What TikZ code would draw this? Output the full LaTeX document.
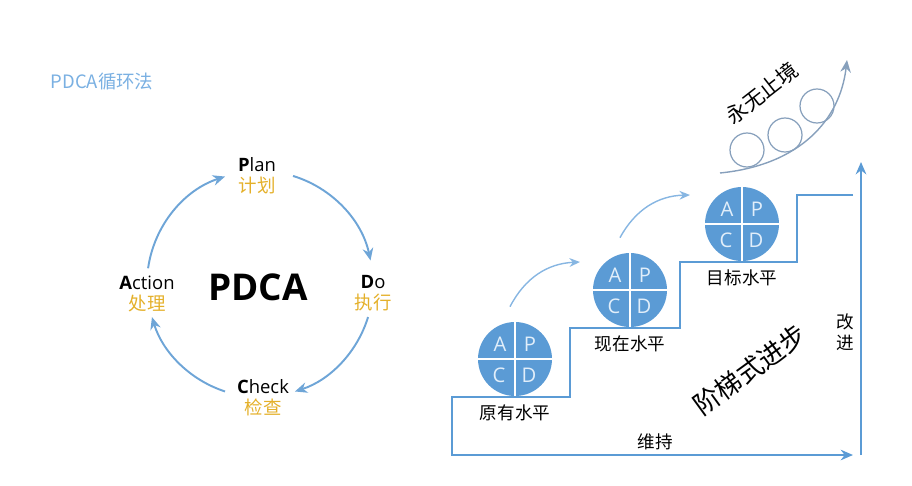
\documentclass[tikz,border=0pt]{standalone}
\usepackage{fontspec}
\setmainfont{Open Sans}
\newfontfamily\cjk{Noto Sans CJK SC}
\usetikzlibrary{arrows.meta,calc}
\definecolor{stairblue}{RGB}{91,155,213}
\definecolor{arcblue}{RGB}{110,165,215}
\definecolor{hopblue}{RGB}{135,182,226}
\definecolor{gold}{RGB}{228,176,42}
\definecolor{titleblue}{RGB}{122,176,226}
\definecolor{pathgray}{RGB}{135,160,188}
\definecolor{letterwhite}{RGB}{225,238,250}
\begin{document}
	\begin{tikzpicture}[x=0.02cm, y=0.02cm,
		stage/.style={font=\fontsize{10.5}{13}\selectfont, align=center, inner sep=1pt},
		cn/.style={font=\cjk\fontsize{10}{12}\selectfont, inner sep=1pt},
		cyclearrow/.style={arcblue, line width=1.1pt, -{Stealth[length=7pt, width=6pt]}},
		apdc/.style={circle, fill=stairblue, minimum size=1.48cm, inner sep=0pt},
		quarter/.style={font=\fontsize{11.5}{13}\selectfont, text=letterwhite, inner sep=0pt},
		hop/.style={hopblue, line width=0.8pt, -{Stealth[length=6pt, width=5pt]}}]
		\useasboundingbox (0,0) rectangle (912,485);
		% ---- left: the PDCA cycle ----
		\node[cn, text=titleblue, font=\cjk\fontsize{10.5}{12}\selectfont] (title) at (102,403) {PDCA循环法};
		\coordinate (cyc) at (260,201);
		\node[font=\bfseries\fontsize{21}{24}\selectfont] (pdca) at (258,198) {PDCA};
		\node[stage] (plan) at (257,309) {\textbf{P}lan\\[-1pt]{\cjk\color{gold}计划}};
		\node[stage] (do) at (373,192) {\textbf{D}o\\[-1pt]{\cjk\color{gold}执行}};
		\node[stage] (check) at (263,87) {\textbf{C}heck\\[-1pt]{\cjk\color{gold}检查}};
		\node[stage] (action) at (147,191) {\textbf{A}ction\\[-1pt]{\cjk\color{gold}处理}};
		\draw[cyclearrow] ([shift={(73:113)}]cyc) arc[start angle=73, end angle=12, radius=113];
		\draw[cyclearrow] ([shift={(-17:113)}]cyc) arc[start angle=-17, end angle=-72, radius=113];
		\draw[cyclearrow] ([shift={(-108:113)}]cyc) arc[start angle=-108, end angle=-163, radius=113];
		\draw[cyclearrow] ([shift={(172:113)}]cyc) arc[start angle=172, end angle=108, radius=113];
		% ---- right: stairs, one PDCA wheel per step ----
		\draw[stairblue, line width=1.2pt, -{Stealth[length=7pt, width=6pt]}]
			(853,290) -- (797,290) -- (797,223) -- (680,223) -- (680,157) -- (570,157)
			-- (570,88) -- (452,88) -- (452,30) -- (853,30);
		\draw[stairblue, line width=1.2pt, -{Stealth[length=7pt, width=6pt]}] (861,30) -- (861,323);
		\node[cn] (keep) at (655,43) {维持};
		\node[cn, align=center] (improve) at (845,153) {改\\进};
		\foreach \n/\x/\y/\lbl in {1/515/126/原有水平, 2/630/195/现在水平, 3/742/261/目标水平} {
			\node[apdc] (lv\n) at (\x,\y) {};
			\draw[white, line width=0.9pt] (lv\n.north) -- (lv\n.south);
			\draw[white, line width=0.9pt] (lv\n.west) -- (lv\n.east);
			\node[quarter] (lv\n-a) at ([shift={(-15,15)}]lv\n.center) {A};
			\node[quarter] (lv\n-p) at ([shift={(15,15)}]lv\n.center) {P};
			\node[quarter] (lv\n-c) at ([shift={(-16,-16)}]lv\n.center) {C};
			\node[quarter] (lv\n-d) at ([shift={(14,-16)}]lv\n.center) {D};
			\node[cn] (lv\n-name) at ([shift={(0,-16)}]lv\n.south) {\lbl};
		}
		\draw[hop] ([shift={(-5,15)}]lv1.north) to[bend left=30] ([shift={(-50,28)}]lv2.center);
		\draw[hop] ([shift={(-10,15)}]lv2.north) to[bend left=30] ([shift={(-52,29)}]lv3.center);
		\node[font=\cjk\fontsize{15}{17}\selectfont, rotate=36] (stairs) at (750,115) {阶梯式进步};
		% ---- top: rolling on without end ----
		\coordinate (roll-start) at (720,312);
		\coordinate (roll-end) at (847,425);
		\draw[pathgray, line width=0.8pt, -{Stealth[length=7pt, width=6pt]}]
			(roll-start) .. controls (800,320) and (840,365) .. (roll-end);
		\foreach \bx/\by in {747/335, 785/350, 817/379}
			\draw[pathgray, line width=0.7pt] (\bx,\by) circle (17);
		\node[font=\cjk\fontsize{12}{14}\selectfont, rotate=38] (endless) at (762,392) {永无止境};
	\end{tikzpicture}
\end{document}
